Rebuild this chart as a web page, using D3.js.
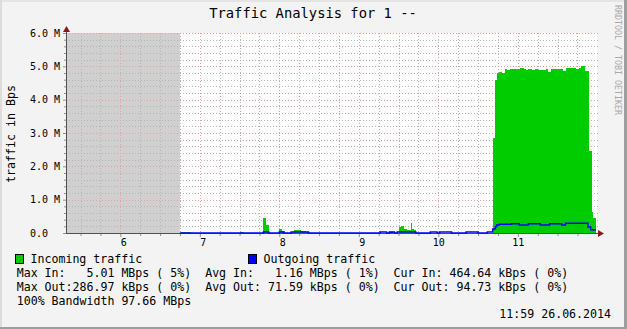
<!DOCTYPE html>
<html>
<head>
<meta charset="utf-8">
<script src="https://cdn.jsdelivr.net/npm/d3@7"></script>
<style>
body { margin: 0; background: #f3f3f3; }
text { font-family: "DejaVu Sans Mono", monospace; white-space: pre; }
</style>
</head>
<body>
<svg id="chart" width="627" height="329"></svg>
<script>
// time window of the graph (clock time), unknown data before dataStart
var timeStart = "5:19";
var timeEnd = "11:59";
var dataStart = "6:45";

var hourTicks = ["6:00", "7:00", "8:00", "9:00", "10:00", "11:00"];
var hourLabels = [" 6", " 7", " 8", " 9", "10", "11"];
var yTicks = [0, 1, 2, 3, 4, 5, 6];
var yLabels = ["0.0", "1.0 M", "2.0 M", "3.0 M", "4.0 M", "5.0 M", "6.0 M"];

// [start time, value in M] - step data, each value holds until the next one
var incoming = [
  ["6:45", 0], ["6:46", 0.03], ["6:53", 0], ["7:30", 0.03], ["7:33", 0],
  ["7:48", 0.46], ["7:50", 0.24], ["7:52", 0], ["8:00", 0.11], ["8:02", 0.06], ["8:04", 0],
  ["8:09", 0.04], ["8:11", 0.09], ["8:16", 0.05], ["8:20", 0.03], ["8:22", 0],
  ["9:23", 0.06], ["9:27", 0], ["9:30", 0.17], ["9:32", 0.21], ["9:34", 0.11], ["9:36", 0.10],
  ["9:39", 0.30], ["9:40", 0.11], ["9:42", 0.10], ["9:43", 0],
  ["10:41", 2.86], ["10:43", 4.59], ["10:44", 4.80], ["10:46", 4.83], ["10:48", 4.79],
  ["10:50", 4.92], ["10:52", 4.89], ["10:54", 4.92], ["10:56", 4.91], ["11:00", 4.92],
  ["11:02", 4.95], ["11:05", 4.92], ["11:06", 4.89], ["11:08", 4.92], ["11:11", 4.89],
  ["11:13", 4.92], ["11:15", 4.89], ["11:21", 4.92], ["11:23", 4.83], ["11:25", 4.92],
  ["11:34", 4.86], ["11:36", 4.95], ["11:44", 4.92], ["11:46", 4.95], ["11:48", 5.01],
  ["11:51", 4.86], ["11:54", 2.46], ["11:56", 0.63], ["11:57", 0.45]
];

var outgoing = [
  ["6:45", 0], ["7:48", 0.03], ["7:52", 0], ["8:00", 0.03], ["8:03", 0], ["8:09", 0.03], ["8:22", 0],
  ["9:16", 0.03], ["9:21", 0], ["9:23", 0.02], ["9:27", 0], ["9:29", 0.03], ["9:43", 0],
  ["9:54", 0.03], ["9:59", 0], ["10:01", 0.03], ["10:10", 0], ["10:21", 0.03], ["10:30", 0],
  ["10:37", 0.03], ["10:41", 0.12], ["10:43", 0.19], ["10:44", 0.24], ["10:46", 0.26],
  ["10:55", 0.28], ["11:01", 0.24], ["11:08", 0.28], ["11:17", 0.24], ["11:24", 0.28],
  ["11:33", 0.24], ["11:36", 0.29], ["11:53", 0.18], ["11:55", 0.10], ["11:57", 0.09]
];

var seriesNames = ["Incoming traffic", "Outgoing traffic"];
var seriesColors = ["#00cc00", "#0000ff"];
var statRows = [
  "Max In:   5.01 MBps ( 5%)  Avg In:   1.16 MBps ( 1%)  Cur In: 464.64 kBps ( 0%)",
  "Max Out:286.97 kBps ( 0%)  Avg Out: 71.59 kBps ( 0%)  Cur Out: 94.73 kBps ( 0%)",
  "100% Bandwidth 97.66 MBps"
];
var title = "Traffic Analysis for 1 --";
var yTitle = "traffic in Bps";
var stamp = "11:59 26.06.2014";
var watermark = "RRDTOOL / TOBI OETIKER";

var toMin = function(s) {
  var p = s.split(":");
  return +p[0] * 60 + +p[1];
};

var W = 627, H = 329;
var plot = { left: 66, right: 596, top: 33, bottom: 233 };

var svg = d3.select("#chart");

var x = d3.scaleLinear().domain([toMin(timeStart), toMin(timeEnd)]).range([plot.left, plot.right]);
var y = d3.scaleLinear().domain([0, 6]).range([plot.bottom, plot.top]);

// background + frame
svg.append("rect").attr("width", W).attr("height", H).attr("fill", "#f3f3f3");
svg.append("rect").attr("x", 0).attr("y", 0).attr("width", W).attr("height", 2).attr("fill", "#e4e4e4");
svg.append("rect").attr("x", 0).attr("y", 0).attr("width", 2).attr("height", H).attr("fill", "#dcdcdc");
svg.append("rect").attr("x", W - 3).attr("y", 0).attr("width", 3).attr("height", H).attr("fill", "#9e9e9e");
svg.append("rect").attr("x", 0).attr("y", H - 2).attr("width", W).attr("height", 2).attr("fill", "#9e9e9e");

// canvas
svg.append("rect").attr("x", plot.left).attr("y", plot.top)
  .attr("width", plot.right - plot.left + 1).attr("height", plot.bottom - plot.top)
  .attr("fill", "#ffffff");

// unknown data
svg.append("rect").attr("x", x(toMin(timeStart))).attr("y", y(6))
  .attr("width", x(toMin(dataStart)) - x(toMin(timeStart))).attr("height", y(0) - y(6))
  .attr("fill", "#d0d0d0");

// grid
var grid = svg.append("g").attr("shape-rendering", "crispEdges");
var minorX = d3.range(toMin(timeStart) + 11, toMin(timeEnd), 15).filter(function(m) { return m % 60 != 0; });
var majorX = hourTicks.map(toMin);
var minorY = d3.range(0.2, 6, 0.2).filter(function(v) { return Math.abs(v - Math.round(v)) > 0.01; });
var minorCol = "#b4b4b4", majorCol = "#e6a0a0";

grid.selectAll(".gx").data(minorX).enter().append("line")
  .attr("x1", function(d) { return Math.round(x(d)) + 0.5; })
  .attr("x2", function(d) { return Math.round(x(d)) + 0.5; })
  .attr("y1", plot.top).attr("y2", plot.bottom)
  .attr("stroke", minorCol).attr("stroke-dasharray", "1,2");
grid.selectAll(".gy").data(minorY).enter().append("line")
  .attr("y1", function(d) { return Math.round(y(d)) + 0.5; })
  .attr("y2", function(d) { return Math.round(y(d)) + 0.5; })
  .attr("x1", plot.left).attr("x2", plot.right + 2)
  .attr("stroke", minorCol).attr("stroke-dasharray", "1,2");
grid.selectAll(".mx").data(majorX).enter().append("line")
  .attr("x1", function(d) { return Math.round(x(d)) + 0.5; })
  .attr("x2", function(d) { return Math.round(x(d)) + 0.5; })
  .attr("y1", plot.top).attr("y2", plot.bottom)
  .attr("stroke", majorCol).attr("stroke-dasharray", "1,2");
grid.selectAll(".my").data(yTicks.slice(1)).enter().append("line")
  .attr("y1", function(d) { return Math.round(y(d)) + 0.5; })
  .attr("y2", function(d) { return Math.round(y(d)) + 0.5; })
  .attr("x1", plot.left).attr("x2", plot.right + 2)
  .attr("stroke", majorCol).attr("stroke-dasharray", "1,2");

// step series, last value held to the end of the graph
var steps = function(arr) {
  var pts = arr.map(function(d) { return { t: toMin(d[0]), v: d[1] }; });
  pts.push({ t: toMin(timeEnd), v: arr[arr.length - 1][1] });
  return pts;
};

var area = d3.area().curve(d3.curveStepAfter)
  .x(function(d) { return x(d.t); })
  .y0(y(0))
  .y1(function(d) { return y(d.v); });

var line = d3.line().curve(d3.curveStepAfter)
  .x(function(d) { return x(d.t); })
  .y(function(d) { return y(d.v); });

svg.append("path").datum(steps(incoming)).attr("d", area)
  .attr("fill", seriesColors[0]).attr("shape-rendering", "crispEdges");

// axes lines
var axisCol = "#505050";
svg.append("line").attr("x1", plot.left).attr("x2", plot.right + 3)
  .attr("y1", plot.bottom + 0.5).attr("y2", plot.bottom + 0.5).attr("stroke", axisCol);
svg.append("line").attr("x1", plot.left + 0.5).attr("x2", plot.left + 0.5)
  .attr("y1", plot.top - 3).attr("y2", plot.bottom + 1).attr("stroke", axisCol);

svg.append("path").datum(steps(outgoing)).attr("d", line)
  .attr("fill", "none").attr("stroke", seriesColors[1]).attr("stroke-width", 1.5);

// arrows
svg.append("path")
  .attr("d", "M" + (plot.right + 2) + "," + (plot.bottom - 3) + "L" + (plot.right + 8) + "," + (plot.bottom + 0.5) + "L" + (plot.right + 2) + "," + (plot.bottom + 4) + "Z")
  .attr("fill", "#8b1a1a");
svg.append("path")
  .attr("d", "M" + (plot.left - 3) + "," + (plot.top - 1) + "L" + (plot.left + 0.5) + "," + (plot.top - 7) + "L" + (plot.left + 4) + "," + (plot.top - 1) + "Z")
  .attr("fill", "#8b1a1a");

// x axis
var xAxis = d3.axisBottom(x).tickValues(majorX)
  .tickFormat(function(d, i) { return hourLabels[i]; })
  .tickSize(3).tickPadding(2).tickSizeOuter(0);
var gx = svg.append("g").attr("transform", "translate(0," + (plot.bottom + 1) + ")").call(xAxis);
gx.select(".domain").remove();
gx.selectAll("line").attr("stroke", "#909090");
gx.selectAll("text").attr("font-family", "DejaVu Sans Mono").attr("font-size", 10).attr("fill", "#000")
  .attr("y", 5).attr("dy", "0.71em");

var xMinor = d3.axisBottom(x).tickValues(minorX).tickFormat("").tickSize(2).tickSizeOuter(0);
var gxm = svg.append("g").attr("transform", "translate(0," + (plot.bottom + 1) + ")").call(xMinor);
gxm.select(".domain").remove();
gxm.selectAll("line").attr("stroke", "#909090");

// y axis
var yAxis = d3.axisLeft(y).tickValues(yTicks)
  .tickFormat(function(d, i) { return yLabels[i]; })
  .tickSize(3).tickSizeOuter(0);
var gy = svg.append("g").attr("transform", "translate(" + plot.left + ",0)").call(yAxis);
gy.select(".domain").remove();
gy.selectAll("line").attr("stroke", "#909090");
gy.selectAll("text").attr("font-family", "DejaVu Sans Mono").attr("font-size", 10).attr("fill", "#000")
  .attr("text-anchor", "start").attr("x", -36);

var yMinor = d3.axisLeft(y).tickValues(minorY).tickFormat("").tickSize(2).tickSizeOuter(0);
var gym = svg.append("g").attr("transform", "translate(" + plot.left + ",0)").call(yMinor);
gym.select(".domain").remove();
gym.selectAll("line").attr("stroke", "#909090");

// titles
svg.append("text").attr("x", 313).attr("y", 18).attr("text-anchor", "middle")
  .attr("font-size", 13.8).text(title);
svg.append("text").attr("transform", "translate(15,134) rotate(-90)").attr("text-anchor", "middle")
  .attr("font-size", 11.6).text(yTitle);
svg.append("text").attr("transform", "translate(615,5) rotate(90)")
  .attr("font-size", 8.3).attr("fill", "#a8a8a8").text(watermark);

// legend
var legendX = [15, 248];
seriesNames.forEach(function(name, i) {
  svg.append("rect").attr("x", legendX[i] + 0.5).attr("y", 254.5).attr("width", 8).attr("height", 9)
    .attr("fill", seriesColors[i]).attr("stroke", "#000").attr("stroke-width", 1);
  svg.append("text").attr("x", legendX[i] + 15.5).attr("y", 262.7).attr("font-size", 11.6).text(name);
});

svg.selectAll(".stat").data(statRows).enter().append("text")
  .attr("x", 16.7).attr("y", function(d, i) { return 276.7 + i * 14; })
  .attr("font-size", 11.6).text(function(d) { return d; });

svg.append("text").attr("x", 611).attr("y", 318.3).attr("text-anchor", "end")
  .attr("font-size", 11.6).text(stamp);
</script>
</body>
</html>
